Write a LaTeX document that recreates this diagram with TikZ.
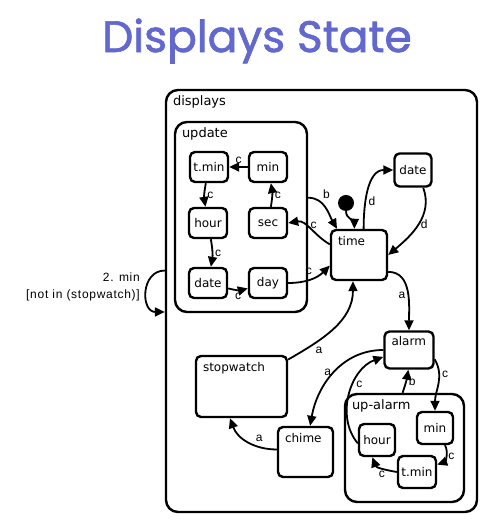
\documentclass[tikz,border=0pt]{standalone}
\usepackage{fontspec}
\setmainfont{Liberation Sans}
\newfontfamily\titlefont[FakeBold=1.5]{Poppins}
\newfontfamily\statefont{DejaVu Sans}
\newfontfamily\guardfont[LetterSpace=6]{Liberation Sans}
\usetikzlibrary{arrows.meta}

\definecolor{titleblue}{RGB}{98,104,206}

\tikzset{
  state/.style={draw, line width=2.4pt, rounded corners=5pt, inner sep=0pt,
    font=\statefont\fontsize{12}{12}\selectfont},
  box/.style={state, rounded corners=12pt},
  boxname/.style={anchor=north west, inner sep=0pt, xshift=8pt, yshift=-7pt,
    font=\statefont\fontsize{13}{13}\selectfont},
  smallname/.style={boxname, font=\statefont\fontsize{12}{12}\selectfont},
  initdot/.style={circle, fill, minimum size=16pt, inner sep=0pt},
  trans/.style={line width=1.8pt, -{Triangle[length=10pt,width=9pt]}},
  lbl/.style={font=\fontsize{12}{12}\selectfont, inner sep=2pt}
}

\begin{document}
\begin{tikzpicture}[x=1pt,y=1pt]

\useasboundingbox (0,0) rectangle (491,529);

% Title
\node[text=titleblue, font=\titlefont\fontsize{44}{44}\selectfont] (title) at (257,488) {Displays State};

% The outer state and its two composite children
\node[box, minimum width=311pt, minimum height=422pt,
  label={[boxname]north west:displays}] (displays) at (321.5,228) {};
\node[box, minimum width=132pt, minimum height=190pt,
  label={[boxname]north west:update}] (update) at (241,312) {};
\node[box, minimum width=119pt, minimum height=108pt,
  label={[boxname]north west:up-alarm}] (upalarm) at (404.5,81) {};

% States inside update
\node[state, minimum width=38pt, minimum height=30pt] (tmin1) at (209,362) {t.min};
\node[state, minimum width=38pt, minimum height=30pt] (min1) at (268,362) {min};
\node[state, minimum width=38pt, minimum height=30pt] (hour1) at (208,306) {hour};
\node[state, minimum width=38pt, minimum height=30pt] (sec) at (268,306) {sec};
\node[state, minimum width=38pt, minimum height=30pt] (date1) at (208,246) {date};
\node[state, minimum width=38pt, minimum height=30pt] (day) at (268,246) {day};

% The other states of displays
\node[initdot] (init) at (346,326) {};
\node[state, minimum width=56pt, minimum height=50pt,
  label={[smallname]north west:time}] (time) at (359,274) {};
\node[state, minimum width=37pt, minimum height=33pt] (date2) at (413,359) {date};
\node[state, minimum width=49pt, minimum height=37pt,
  label={[smallname, yshift=1pt]north west:alarm}] (alarm) at (409,179) {};
\node[state, minimum width=91pt, minimum height=61pt,
  label={[smallname]north west:stopwatch}] (stopwatch) at (241.5,142.5) {};
\node[state, minimum width=55pt, minimum height=50pt,
  label={[smallname]north west:chime}] (chime) at (305.5,77) {};

% States inside up-alarm
\node[state, minimum width=36pt, minimum height=32pt] (hour2) at (377,89) {hour};
\node[state, minimum width=36pt, minimum height=32pt] (min2) at (435,101) {min};
\node[state, minimum width=38pt, minimum height=32pt] (tmin2) at (417,57) {t.min};

% Transitions in update
\draw[trans] (min1) -- node[lbl, above] {c} (tmin1);
\draw[trans] (tmin1) to[bend right=10] node[lbl, right] {c} (hour1);
\draw[trans] (sec) to[bend right=10] node[lbl, right] {c} (min1);
\draw[trans] (hour1) to[bend left=10] node[lbl, right] {c} (date1);
\draw[trans] (date1) to[bend right=15] node[lbl, below] {c} (day);

% Transitions round time
\draw[trans] (day.east) to[out=0,in=225] node[lbl, above left, pos=0.6] {c} (time.200);
\draw[trans] (time.160) to[out=150,in=10] node[lbl, above, pos=0.4] {c} (sec.east);
\draw[trans] (update.16) to[out=0,in=120] node[lbl, above right, pos=0.3] {b} (time.130);
\draw[trans] (init) to[out=-90,in=90] (time.100);
\draw[trans] (time.80) to[out=90,in=180] node[lbl, right, pos=0.35] {d} (date2.west);
\draw[trans] (date2.-60) to[out=-70,in=40] node[lbl, right, pos=0.5] {d} (time.east);
\draw[trans] (time.-30) to[out=0,in=90] node[lbl, left, pos=0.55] {a} (alarm.north);
\draw[trans] (stopwatch.30) to[out=30,in=-90] node[lbl, below right, pos=0.25] {a} (time.257);

% Transitions round alarm
\draw[trans] (alarm.west) to[out=180,in=80] node[lbl, left, pos=0.5] {a} (chime.80);
\draw[trans] (chime.175) to[out=180,in=-70] node[lbl, above right, pos=0.4] {a} (stopwatch.250);
\draw[trans] (alarm.-20) to[out=-60,in=90] node[lbl, right, pos=0.3] {c} (min2.north);
\draw[trans] (min2.-60) to[out=-60,in=20] node[lbl, right, pos=0.5] {c} (tmin2.20);
\draw[trans] (tmin2.west) to[out=170,in=-70] node[lbl, below, pos=0.5] {c} (hour2.-105);
\draw[trans] (hour2.190) to[out=130,in=200] node[lbl, right, pos=0.6] {c} (alarm.195);
\draw[trans] (upalarm.92) to[bend right=5] node[lbl, right] {b} (alarm.268);

% Transition of displays on itself
\draw[trans] (displays.169) to[out=180,in=180,looseness=1.5] (displays.184);
\node[lbl, anchor=east, align=right, font=\guardfont\fontsize{12}{17}\selectfont] (guard) at (142,242)
  {2. min\\{}[not in (stopwatch)]};

\end{tikzpicture}
\end{document}
